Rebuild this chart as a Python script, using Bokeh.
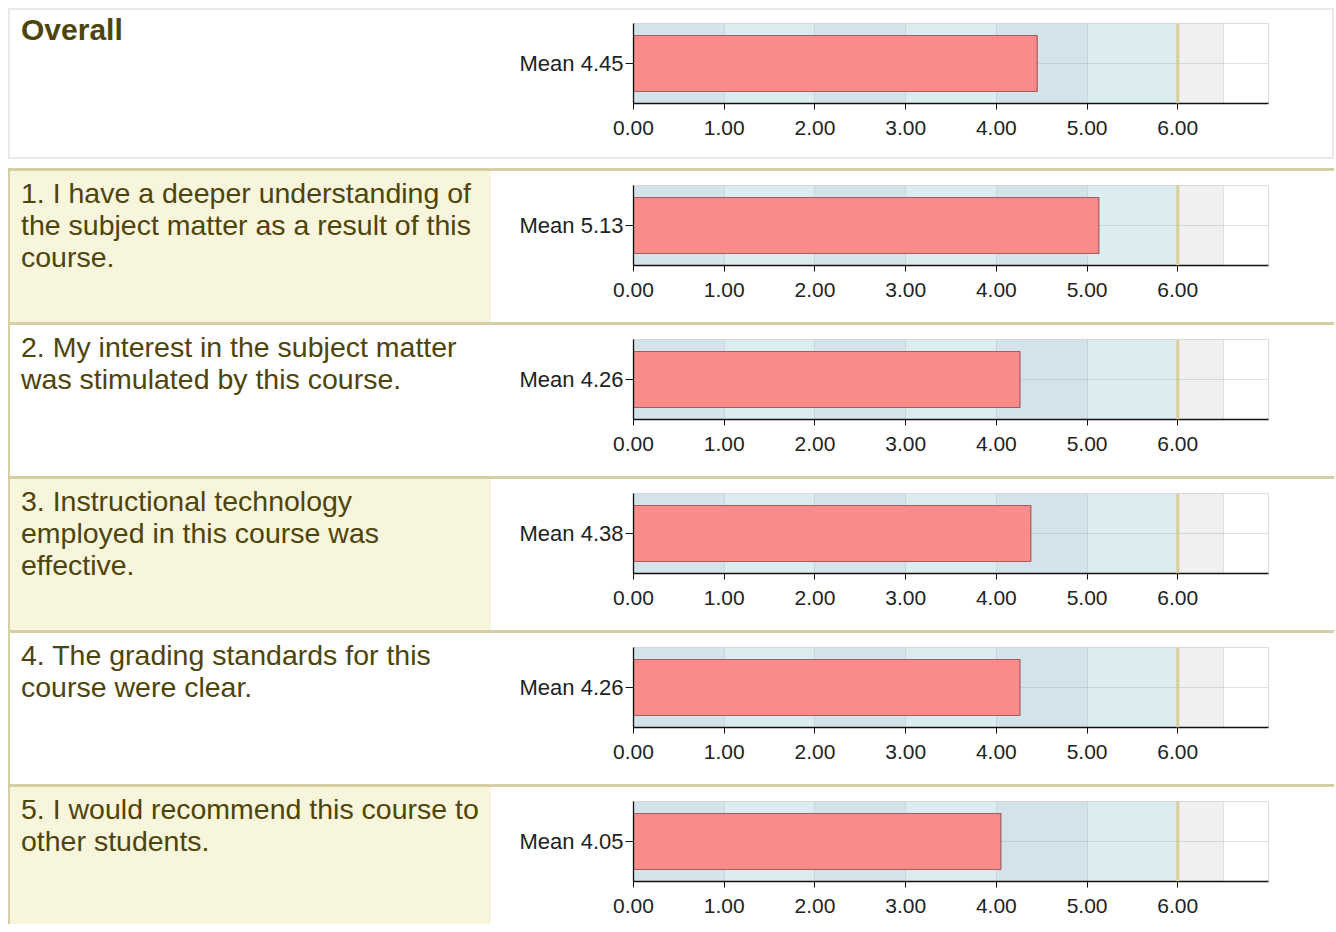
from bokeh.plotting import figure
from bokeh.layouts import column, row
from bokeh.models import Range1d, FactorRange, FixedTicker, NumeralTickFormatter, Span, Div
from bokeh.embed import file_html
from bokeh.resources import INLINE

# ---------------- data ----------------
titles = [
    "Overall",
    "1. I have a deeper understanding of\nthe subject matter as a result of this\ncourse.",
    "2. My interest in the subject matter\nwas stimulated by this course.",
    "3. Instructional technology\nemployed in this course was\neffective.",
    "4. The grading standards for this\ncourse were clear.",
    "5. I would recommend this course to\nother students.",
]
means = [4.45, 5.13, 4.26, 4.38, 4.26, 4.05]
x_ticks = [0, 1, 2, 3, 4, 5, 6]
band_left = [0, 1, 2, 3, 4, 5, 6, 6.5]
band_right = [1, 2, 3, 4, 5, 6, 6.5, 7]
reference_value = 6

# ---------------- styles ----------------
FONT = "Liberation Sans"
TEXT_COLOR = "#4f4409"
BEIGE = "#f8f5dd"
TAN = "#d6cfa6"
GRAY = "#e9e9e9"
BAND_COLORS = ["#d3e3e9", "#dcedf2", "#d3e3e9", "#dcedf2", "#d3e3e9", "#dcedf2", "#f0f0f0", "#ffffff"]
PANEL_COLORS = ["#ffffff", BEIGE, "#ffffff", BEIGE, "#ffffff", BEIGE]


def strip(w, h, color):
    inner = (f'<div style="width:{w}px;height:{h}px;background-color:{color};'
             f'margin:0;padding:0;"></div>')
    return Div(text=inner, width=w, height=h,
               styles={"background-color": color, "overflow": "hidden", "margin": "0", "padding": "0"})


def make_label(text, width, height, bg, bold, pad_left, pad_top, size, left_rule):
    html_text = "<br>".join(text.split("\n"))
    border = f"border-left:2px solid {TAN};" if left_rule else ""
    inner = (f'<div style="box-sizing:border-box;width:{width}px;height:{height}px;'
             f'padding:{pad_top}px 0 0 {pad_left}px;{border}'
             f'font-family:\'{FONT}\';font-size:{size};line-height:32px;'
             f'font-weight:{"bold" if bold else "normal"};color:{TEXT_COLOR};'
             f'background-color:{bg};overflow:hidden;white-space:nowrap;">{html_text}</div>')
    return Div(text=inner, width=width, height=height,
               styles={"background-color": bg, "overflow": "hidden", "margin": "0", "padding": "0"})


def make_chart(mean, width, height, top, right):
    lab = f"Mean {mean:.2f}"
    frame_h = 80
    p = figure(width=width, height=height, x_range=Range1d(0, 7), y_range=FactorRange(factors=[lab]),
               output_backend="svg", toolbar_location=None,
               min_border_left=142, min_border_right=right, min_border_top=top,
               min_border_bottom=height - top - frame_h,
               background_fill_color="#ffffff", border_fill_color="#ffffff",
               outline_line_color="#d2d2d2")
    p.hbar(y=[lab] * len(band_left), left=band_left, right=band_right, height=1,
           fill_color=BAND_COLORS, line_color=None, level="image")
    p.hbar(y=[lab], left=[0], right=[mean], height=0.7,
           fill_color="#fa8b8b", line_color="#a45c5c", line_width=1.2)
    p.add_layout(Span(location=reference_value, dimension="height",
                      line_color="#d9ce9b", line_width=3))
    p.xgrid.ticker = FixedTicker(ticks=[1, 2, 3, 4, 5, 6.5])
    for g in (p.xgrid[0], p.ygrid[0]):
        g.grid_line_color = "#8ea2aa"
        g.grid_line_alpha = 0.3
    xa = p.xaxis[0]
    xa.ticker = FixedTicker(ticks=x_ticks)
    xa.formatter = NumeralTickFormatter(format="0.00")
    xa.major_tick_out = 6
    xa.major_tick_in = 0
    xa.major_label_standoff = 11
    xa.axis_line_color = "#111111"
    xa.axis_line_width = 1.3
    xa.major_tick_line_color = "#111111"
    xa.major_label_text_font = FONT
    xa.major_label_text_font_size = "21px"
    xa.major_label_text_color = "#222222"
    ya = p.yaxis[0]
    ya.major_tick_out = 8
    ya.major_tick_in = 0
    ya.major_label_standoff = 2
    ya.axis_line_color = "#111111"
    ya.axis_line_width = 1.3
    ya.major_tick_line_color = "#111111"
    ya.major_label_text_font = FONT
    ya.major_label_text_font_size = "22px"
    ya.major_label_text_color = "#222222"
    return p


MARGIN = 8
TOTAL_W = 1326
LABEL_W = 483

# Overall block with light gray frame
ov_h = 147
overall = column(
    strip(TOTAL_W, 2, GRAY),
    row(strip(2, ov_h, GRAY),
        make_label(titles[0], LABEL_W - 2, ov_h, "#ffffff", True, 11, 4, "30px", False),
        make_chart(means[0], TOTAL_W - LABEL_W - 2, ov_h, 13, 64),
        strip(2, ov_h, GRAY)),
    strip(TOTAL_W, 2, GRAY),
)

items = [overall, strip(TOTAL_W, 9, "#ffffff")]
total_h = 151 + 9
for i in range(1, len(titles)):
    h = 151 if i < len(titles) - 1 else 137
    items.append(strip(TOTAL_W, 3, TAN))
    items.append(row(
        make_label(titles[i], LABEL_W, h, PANEL_COLORS[i], False, 11, 6, "28.5px", True),
        make_chart(means[i], TOTAL_W - LABEL_W, h, 14, 66),
    ))
    total_h += 3 + h

main = column(*items)
layout = column(strip(TOTAL_W + MARGIN, MARGIN, "#ffffff"),
                row(strip(MARGIN, total_h, "#ffffff"), main))
open("out.html", "w").write(file_html(layout, INLINE))
